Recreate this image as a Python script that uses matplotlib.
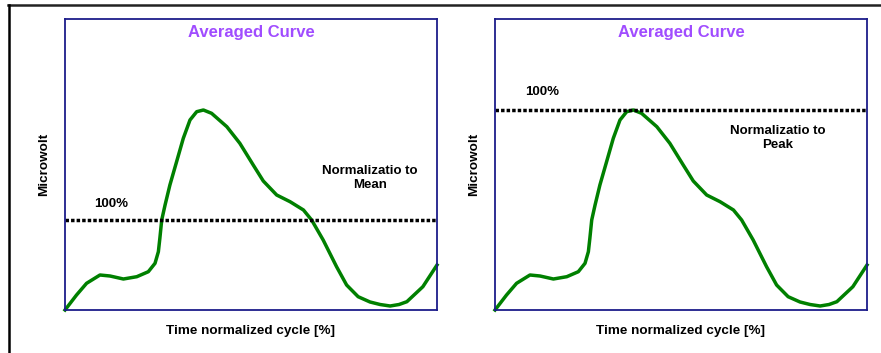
import matplotlib.pyplot as plt
from matplotlib.lines import Line2D

plt.rcParams['font.family'] = ['Liberation Sans', 'DejaVu Sans']

# averaged curve (time in % of cycle, amplitude in microvolt, arbitrary units)
t = [0, 3.1, 5.8, 9.4, 12.1, 15.7, 19.3, 22.4, 24.2, 25.1, 25.5, 26.0, 26.9,
     28.2, 30.0, 31.8, 33.6, 35.4, 37.2, 39.4, 43.5, 47.0, 50.6, 53.3, 56.9,
     60.5, 64.1, 66.3, 69.4, 73.0, 75.7, 78.8, 82.0, 84.7, 87.4, 89.8, 91.9,
     96.2, 100]
uv = [0, 15, 26.7, 35, 34, 31, 33.3, 38.3, 46.7, 58.3, 71.7, 90, 105,
      125, 148.3, 171.7, 190, 198.3, 200, 196.7, 183.3, 166.7, 145, 129, 115,
      108.3, 100, 90, 70, 43.3, 25, 13.3, 8, 5.5, 4, 5.5, 8.3,
      23.3, 45]
mean_level = 90
peak_level = max(uv)

panels = [
    ("Normalizatio to\nMean", mean_level, (0.124, 0.364), (0.82, 0.454)),
    ("Normalizatio to\nPeak", peak_level, (0.126, 0.749), (0.761, 0.591)),
]
lefts = [65/881, 495/881]

fig = plt.figure(figsize=(8.81, 3.53), dpi=100)

for (label, level, pos100, posnote), x0 in zip(panels, lefts):
    ax = fig.add_axes([x0, 43/353, 372/881, 291/353])
    ax.plot(t, uv, color='#008000', lw=2.5, solid_joinstyle='round', clip_on=False)
    ax.axhline(level, color='black', lw=2.5, ls=(0, (1, 0.6)))
    ax.set_xlim(0, 100)
    ax.set_ylim(0, 291)
    ax.set_xticks([])
    ax.set_yticks([])
    for s in ax.spines.values():
        s.set_color('#1c1c8a')
        s.set_linewidth(1.3)
    ax.text(0.5, 0.952, "Averaged Curve", transform=ax.transAxes, ha='center', va='center',
            color='#a04cff', fontsize=12, fontweight='bold')
    ax.text(pos100[0], pos100[1], "100%", transform=ax.transAxes, ha='center', va='center',
            fontsize=9.5, fontweight='bold')
    ax.text(posnote[0], posnote[1], label, transform=ax.transAxes, ha='center', va='center',
            fontsize=9.5, fontweight='bold', linespacing=1.2)
    ax.set_xlabel("Time normalized cycle [%]", fontsize=9.7, fontweight='bold', labelpad=11)
    ax.set_ylabel("Microwolt", fontsize=9.7, fontweight='bold', labelpad=11)

# outer frame (top and left edges)
fig.add_artist(Line2D([8/881, 1], [1 - 5/353, 1 - 5/353], color='#222222', lw=1.8))
fig.add_artist(Line2D([8.5/881, 8.5/881], [0, 1 - 5/353], color='black', lw=1.8))

plt.savefig('out.png', dpi=100)
